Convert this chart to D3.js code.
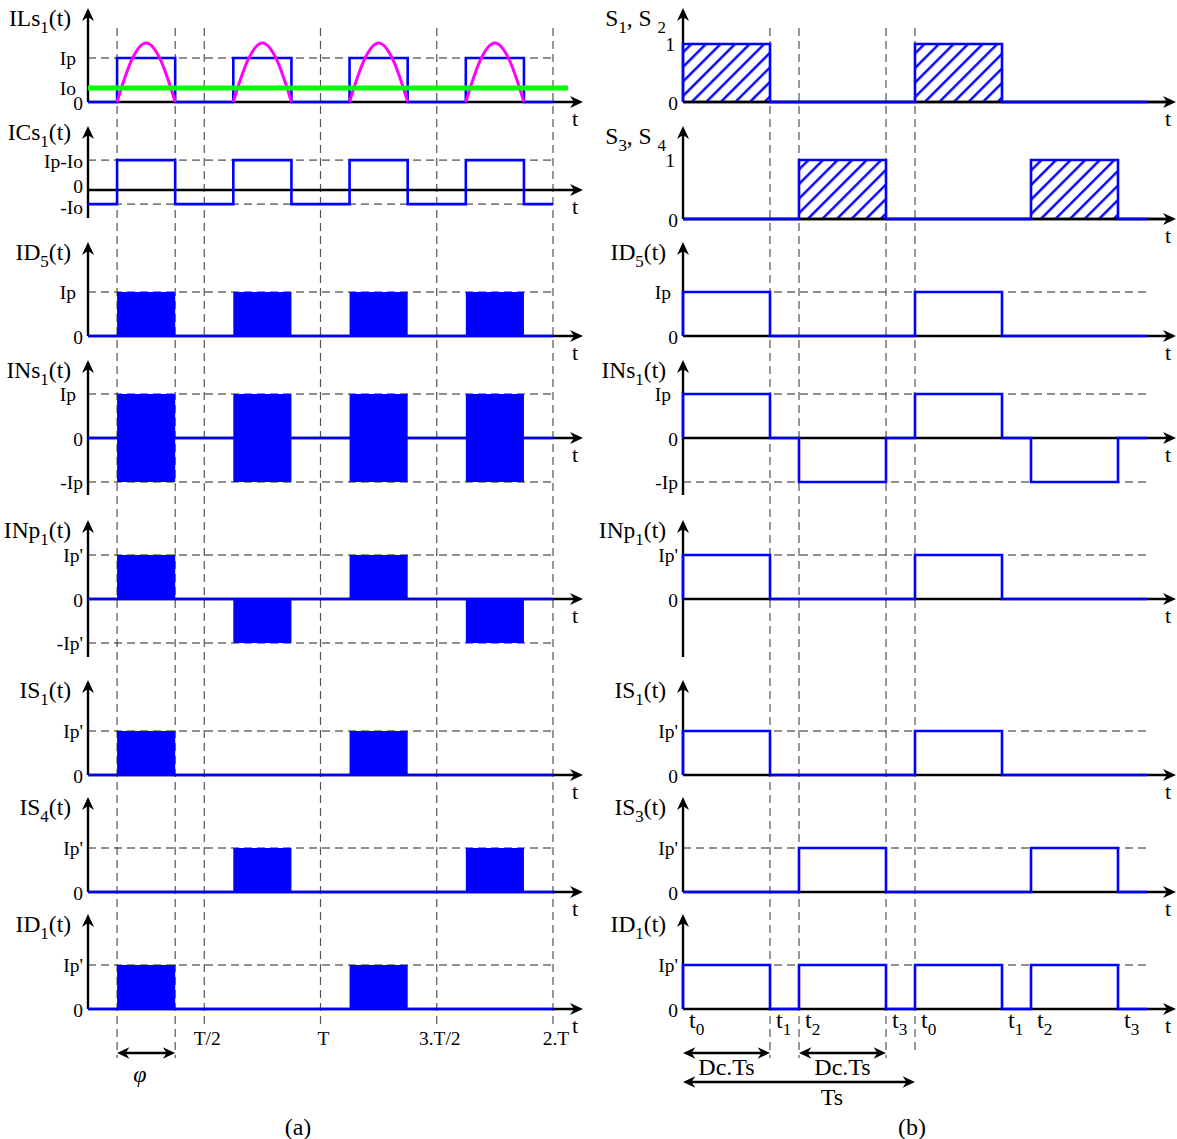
<!DOCTYPE html>
<html>
<head>
<meta charset="utf-8">
<script src="https://cdn.jsdelivr.net/npm/d3@7"></script>
<style>
  body { margin: 0; background: #fff; }
  svg { display: block; }
  text { font-family: "Liberation Serif", "Times New Roman", serif; fill: #000; }
</style>
</head>
<body>
<div id="chart"></div>
<script>
// ---------- data : panel (a), time in units of T ----------
const leftEdges = [0, 0.125, 0.375, 0.625, 0.875, 1.125, 1.375, 1.625, 1.875, 2];
const leftPulses = [[0.125, 0.375], [0.625, 0.875], [1.125, 1.375], [1.625, 1.875]];
const leftTicks = [0.5, 1, 1.5, 2];
const leftTickLabels = ["T/2", "T", "3.T/2", "2.T"];
const ioLevel = 0.32;                      // Io as a fraction of Ip
const ilsSquare = [0, 1, 0, 1, 0, 1, 0, 1, 0];
const icsLevels = [-0.32, 0.68, -0.32, 0.68, -0.32, 0.68, -0.32, 0.68, -0.32];
// magenta arch: [fraction of pulse, value in Ip]
const ilsArch = [[0, 0], [0.1, 0.42], [0.25, 0.95], [0.5, 1.34], [0.75, 0.95], [0.9, 0.42], [1, 0]];
// filled pulses: [low, high] per pulse
const id5Left = [[0, 1], [0, 1], [0, 1], [0, 1]];
const insLeft = [[-1, 1], [-1, 1], [-1, 1], [-1, 1]];
const inpLeft = [[0, 1], [-1, 0], [0, 1], [-1, 0]];
const is1Left = [[0, 1], [0, 0], [0, 1], [0, 0]];
const is4Left = [[0, 0], [0, 1], [0, 0], [0, 1]];
const id1Left = [[0, 1], [0, 0], [0, 1], [0, 0]];

// ---------- data : panel (b), time in units of Ts ----------
const rightEdges = [0, 0.375, 0.5, 0.875, 1, 1.375, 1.5, 1.875, 2];
const rightEdgeSubs = ["0", "1", "2", "3", "0", "1", "2", "3"];
const s12 = [1, 0, 0, 0, 1, 0, 0, 0];
const s34 = [0, 0, 1, 0, 0, 0, 1, 0];
const id5Right = [1, 0, 0, 0, 1, 0, 0, 0];
const insRight = [1, 0, -1, 0, 1, 0, -1, 0];
const inpRight = [1, 0, 0, 0, 1, 0, 0, 0];
const is1Right = [1, 0, 0, 0, 1, 0, 0, 0];
const is3Right = [0, 0, 1, 0, 0, 0, 1, 0];
const id1Right = [1, 0, 1, 0, 1, 0, 1, 0];
const dcSpans = [[0, 0.375], [0.5, 0.875]];
const tsSpan = [0, 1];

// ---------- layout ----------
const width = 1177, height = 1139;
const BLUE = "#0000ff";
const TICK_FONT = 19.5;
const xL = d3.scaleLinear().domain([0, 2]).range([88, 553]);
const xR = d3.scaleLinear().domain([0, 2]).range([683, 1147]);

const svg = d3.select("#chart").append("svg")
    .attr("width", width)
    .attr("height", height);

// hatch pattern for switch signals
svg.append("defs").append("pattern")
    .attr("id", "hatch")
    .attr("patternUnits", "userSpaceOnUse")
    .attr("width", 10.3).attr("height", 10.3)
    .attr("patternTransform", "rotate(45)")
  .append("line")
    .attr("x1", 5).attr("y1", -1).attr("x2", 5).attr("y2", 12)
    .attr("stroke", BLUE).attr("stroke-width", 2.4);

const ticks1 = lab => [[lab, 1, true], ["0", 0, false]];
const ticks3 = lab => [[lab, 1, true], ["0", 0, false], ["-" + lab, -1, true]];

const leftRows = [
    { label: [["ILs"], ["1", 1], ["(t)"]], top: 8, zero: 102, unit: 44, bottom: 102,
      ticks: [["Ip", 1, true], ["Io", ioLevel, false], ["0", 0, false]], kind: "step", values: ilsSquare, ils: true },
    { label: [["ICs"], ["1", 1], ["(t)"]], top: 126, zero: 190, unit: 44, bottom: 218, labelDy: 14,
      ticks: [["Ip-Io", 0.68, true], ["0", 0, false], ["-Io", -ioLevel, true]], kind: "step", values: icsLevels, tight: true },
    { label: [["ID"], ["5", 1], ["(t)"]], top: 242, zero: 336, unit: 44, bottom: 336, ticks: ticks1("Ip"), kind: "fill", values: id5Left },
    { label: [["INs"], ["1", 1], ["(t)"]], top: 360, zero: 438, unit: 44, bottom: 495, ticks: ticks3("Ip"), kind: "fill", values: insLeft },
    { label: [["INp"], ["1", 1], ["(t)"]], top: 520, zero: 599, unit: 44, bottom: 657, ticks: ticks3("Ip'"), kind: "fill", values: inpLeft },
    { label: [["IS"], ["1", 1], ["(t)"]], top: 680, zero: 775, unit: 44, bottom: 775, ticks: ticks1("Ip'"), kind: "fill", values: is1Left },
    { label: [["IS"], ["4", 1], ["(t)"]], top: 797, zero: 892, unit: 44, bottom: 892, ticks: ticks1("Ip'"), kind: "fill", values: is4Left },
    { label: [["ID"], ["1", 1], ["(t)"]], top: 914, zero: 1009, unit: 44, bottom: 1009, ticks: ticks1("Ip'"), kind: "fill", values: id1Left }
];

const rightRows = [
    { label: [["S"], ["1", 1], [", S "], ["2", 1]], top: 8, zero: 102, unit: 58, bottom: 102,
      ticks: [["1", 1, false], ["0", 0, false]], kind: "hatch", values: s12 },
    { label: [["S"], ["3", 1], [", S "], ["4", 1]], top: 126, zero: 219, unit: 59, bottom: 219,
      ticks: [["1", 1, false], ["0", 0, false]], kind: "hatch", values: s34 },
    { label: [["ID"], ["5", 1], ["(t)"]], top: 242, zero: 336, unit: 44, bottom: 336, ticks: ticks1("Ip"), kind: "step", values: id5Right },
    { label: [["INs"], ["1", 1], ["(t)"]], top: 360, zero: 438, unit: 44, bottom: 495, ticks: ticks3("Ip"), kind: "step", values: insRight },
    { label: [["INp"], ["1", 1], ["(t)"]], top: 520, zero: 599, unit: 44, bottom: 657, ticks: ticks1("Ip'"), kind: "step", values: inpRight },
    { label: [["IS"], ["1", 1], ["(t)"]], top: 680, zero: 775, unit: 44, bottom: 775, ticks: ticks1("Ip'"), kind: "step", values: is1Right },
    { label: [["IS"], ["3", 1], ["(t)"]], top: 797, zero: 892, unit: 44, bottom: 892, ticks: ticks1("Ip'"), kind: "step", values: is3Right },
    { label: [["ID"], ["1", 1], ["(t)"]], top: 914, zero: 1009, unit: 44, bottom: 1009, ticks: ticks1("Ip'"), kind: "step", values: id1Right }
];

const panels = [
    { x: xL, edges: leftEdges, rows: leftRows, tipX: 583, tX: 572, prepend: false },
    { x: xR, edges: rightEdges, rows: rightRows, tipX: 1176, tX: 1165, prepend: true }
];

// arrowhead, tip at (x, y), pointing along angle (deg)
function arrowHead(g, x, y, angle, size = 1) {
    g.append("path")
        .attr("d", `M0,0 L${-13 * size},${-6 * size} L${-9 * size},0 L${-13 * size},${6 * size} Z`)
        .attr("transform", `translate(${x},${y}) rotate(${angle})`)
        .attr("fill", "#000");
}

function richText(g, x, y, parts, size, anchor) {
    const t = g.append("text")
        .attr("x", x).attr("y", y)
        .attr("font-size", size)
        .attr("text-anchor", anchor);
    let shifted = 0;
    parts.forEach(p => {
        const sub = p[1] === 1;
        const s = t.append("tspan").text(p[0]);
        const target = sub ? 7 : 0;
        s.attr("dy", target - shifted);
        if (sub) s.attr("font-size", size * 0.72);
        shifted = target;
    });
    return t;
}

// vertical dashed guides (drawn first, under everything)
const guides = svg.append("g")
    .attr("stroke", "#555").attr("stroke-width", 1.2).attr("stroke-dasharray", "8,5");
[[0.125, 1058], [0.375, 1058], [0.5, 1025], [1, 1025], [1.5, 1025], [2, 1025]].forEach(([t, y2]) => {
    guides.append("line").attr("x1", xL(t)).attr("x2", xL(t)).attr("y1", 28).attr("y2", y2);
});
[[0.375, 1058], [0.5, 1058], [0.875, 1058], [1, 1050]].forEach(([t, y2]) => {
    guides.append("line").attr("x1", xR(t)).attr("x2", xR(t)).attr("y1", 28).attr("y2", y2);
});

panels.forEach(panel => {
    const x = panel.x;
    const axisX = x(0);
    panel.rows.forEach(row => {
        const g = svg.append("g");
        const y = d3.scaleLinear().domain([0, 1]).range([row.zero, row.zero - row.unit]);

        // horizontal dashed reference levels
        row.ticks.filter(d => d[2]).forEach(d => {
            g.append("line")
                .attr("x1", axisX).attr("x2", x(2))
                .attr("y1", y(d[1])).attr("y2", y(d[1]))
                .attr("stroke", "#222").attr("stroke-width", 1)
                .attr("stroke-dasharray", "8,5");
        });

        // axes
        g.append("line").attr("x1", axisX).attr("x2", panel.tipX - 6)
            .attr("y1", row.zero).attr("y2", row.zero)
            .attr("stroke", "#000").attr("stroke-width", 2.4);
        g.append("line").attr("x1", axisX).attr("x2", axisX)
            .attr("y1", row.bottom).attr("y2", row.top + 6)
            .attr("stroke", "#000").attr("stroke-width", 2.4);

        // signal
        if (row.kind === "fill") {
            g.append("line").attr("x1", axisX).attr("x2", x(2))
                .attr("y1", row.zero).attr("y2", row.zero)
                .attr("stroke", BLUE).attr("stroke-width", 2.6);
            g.selectAll("rect.pulse")
                .data(row.values.map((v, i) => ({ lo: v[0], hi: v[1], p: leftPulses[i] })).filter(d => d.hi > d.lo))
                .join("rect")
                .attr("class", "pulse")
                .attr("x", d => x(d.p[0]))
                .attr("width", d => x(d.p[1]) - x(d.p[0]))
                .attr("y", d => y(d.hi))
                .attr("height", d => y(d.lo) - y(d.hi))
                .attr("fill", BLUE);
        } else {
            const pts = [];
            if (panel.prepend) pts.push([panel.edges[0], 0]);
            row.values.forEach((v, i) => pts.push([panel.edges[i], v]));
            pts.push([panel.edges[panel.edges.length - 1], row.values[row.values.length - 1]]);
            if (row.kind === "hatch") {
                const area = d3.area().curve(d3.curveStepAfter)
                    .x(d => x(d[0])).y0(row.zero).y1(d => y(d[1]));
                g.append("path").attr("d", area(pts)).attr("fill", "url(#hatch)");
                g.append("line").attr("x1", axisX).attr("x2", panel.tipX - 6)
                    .attr("y1", row.zero).attr("y2", row.zero)
                    .attr("stroke", "#000").attr("stroke-width", 2.4);
            }
            const line = d3.line().curve(d3.curveStepAfter)
                .x(d => x(d[0])).y(d => y(d[1]));
            g.append("path").attr("d", line(pts))
                .attr("fill", "none").attr("stroke", BLUE).attr("stroke-width", 2.6);
        }

        if (row.ils) {
            const arch = d3.line().curve(d3.curveMonotoneX)
                .x(d => d[0]).y(d => d[1]);
            leftPulses.forEach(p => {
                const pts = ilsArch.map(a => [x(p[0] + a[0] * (p[1] - p[0])), y(a[1])]);
                g.append("path").attr("d", arch(pts))
                    .attr("fill", "none").attr("stroke", "#ff00ff").attr("stroke-width", 3);
            });
            g.append("line").attr("x1", axisX).attr("x2", 568)
                .attr("y1", y(ioLevel)).attr("y2", y(ioLevel))
                .attr("stroke", "#00ff00").attr("stroke-width", 5);
        }

        arrowHead(g, axisX, row.top, -90);
        arrowHead(g, panel.tipX, row.zero, 0);

        // tick labels
        row.ticks.forEach(d => {
            const off = (d[0] === "Ip" || d[0] === "Io") ? 12 : (d[0] === "1" ? 8 : 5);
            let dy = d[1] === 0 ? 8 : 7;
            if (row.tight && d[1] === 0) dy = 3;
            if (row.tight && d[1] < 0) dy = 10;
            if (row.tight && d[1] > 0) dy = 8;
            g.append("text")
                .attr("x", axisX - off)
                .attr("y", y(d[1]) + dy)
                .attr("font-size", TICK_FONT)
                .attr("text-anchor", "end")
                .text(d[0]);
        });

        // row label and time label
        richText(g, axisX - 17, row.top + (row.labelDy || 18), row.label, 23.5, "end");
        g.append("text").attr("x", panel.tX).attr("y", row.zero + 24)
            .attr("font-size", 22).text("t");
    });
});

// ---------- bottom annotations ----------
const ann = svg.append("g");

leftTicks.forEach((t, i) => {
    ann.append("text").attr("x", xL(t) + 3).attr("y", 1045)
        .attr("font-size", TICK_FONT).attr("text-anchor", "middle")
        .text(leftTickLabels[i]);
});

function doubleArrow(x1, x2, yy) {
    ann.append("line").attr("x1", x1 + 4).attr("x2", x2 - 4).attr("y1", yy).attr("y2", yy)
        .attr("stroke", "#000").attr("stroke-width", 2.4);
    arrowHead(ann, x2, yy, 0, 0.95);
    arrowHead(ann, x1, yy, 180, 0.95);
}

// phase shift phi
doubleArrow(xL(leftPulses[0][0]), xL(leftPulses[0][1]), 1053);
ann.append("text").attr("x", 140).attr("y", 1082)
    .attr("font-size", 24).attr("font-style", "italic").attr("text-anchor", "middle")
    .text("φ");

// t0..t3 marks
rightEdgeSubs.forEach((s, i) => {
    richText(ann, xR(rightEdges[i]) + 6, 1028, [["t"], [s, 1]], 24, "start");
});

dcSpans.forEach(s => {
    doubleArrow(xR(s[0]), xR(s[1]), 1053);
    ann.append("text").attr("x", (xR(s[0]) + xR(s[1])) / 2).attr("y", 1075)
        .attr("font-size", 24).attr("text-anchor", "middle").text("Dc.Ts");
});
doubleArrow(xR(tsSpan[0]), xR(tsSpan[1]), 1082);
ann.append("text").attr("x", 832).attr("y", 1105)
    .attr("font-size", 24).attr("text-anchor", "middle").text("Ts");

ann.append("text").attr("x", 298).attr("y", 1135).attr("font-size", 24)
    .attr("text-anchor", "middle").text("(a)");
ann.append("text").attr("x", 912).attr("y", 1135).attr("font-size", 24)
    .attr("text-anchor", "middle").text("(b)");
</script>
</body>
</html>
